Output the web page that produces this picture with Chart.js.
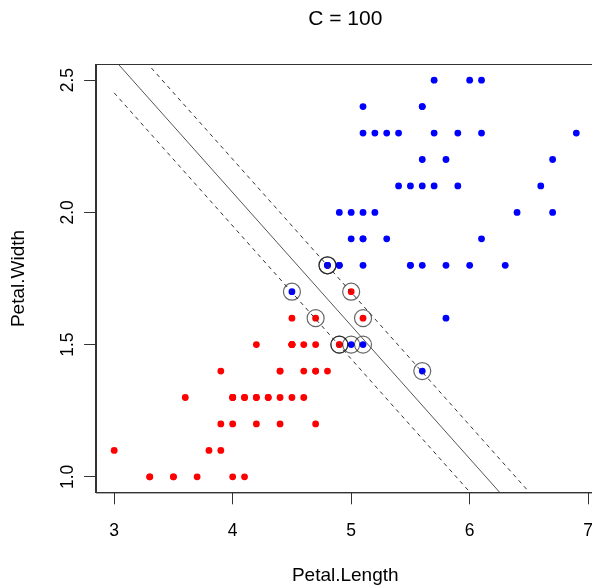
<!DOCTYPE html>
<html>
<head>
<meta charset="utf-8">
<title>C = 100</title>
<script src="https://cdn.jsdelivr.net/npm/chart.js@4.4.1/dist/chart.umd.min.js"></script>
<style>
  html, body { margin: 0; padding: 0; background: #fff; overflow: hidden; }
  .chart-box { width: 600px; height: 587px; }
</style>
</head>
<body>
<div class="chart-box"><canvas id="svmChart" width="600" height="587"></canvas></div>
<script>
// iris: versicolor (red) and virginica (blue)
const versicolorLength = [4.7, 4.5, 4.9, 4.0, 4.6, 4.5, 4.7, 3.3, 4.6, 3.9, 3.5, 4.2, 4.0, 4.7, 3.6, 4.4, 4.5, 4.1, 4.5, 3.9,
  4.8, 4.0, 4.9, 4.7, 4.3, 4.4, 4.8, 5.0, 4.5, 3.5, 3.8, 3.7, 3.9, 5.1, 4.5, 4.5, 4.7, 4.4, 4.1, 4.0,
  4.4, 4.6, 4.0, 3.3, 4.2, 4.2, 4.2, 4.3, 3.0, 4.1];
const versicolorWidth = [1.4, 1.5, 1.5, 1.3, 1.5, 1.3, 1.6, 1.0, 1.3, 1.4, 1.0, 1.5, 1.0, 1.4, 1.3, 1.4, 1.5, 1.0, 1.5, 1.1,
  1.8, 1.3, 1.5, 1.2, 1.3, 1.4, 1.4, 1.7, 1.5, 1.0, 1.1, 1.0, 1.2, 1.6, 1.5, 1.6, 1.5, 1.3, 1.3, 1.3,
  1.2, 1.4, 1.2, 1.0, 1.3, 1.2, 1.3, 1.3, 1.1, 1.3];

const virginicaLength = [6.0, 5.1, 5.9, 5.6, 5.8, 6.6, 4.5, 6.3, 5.8, 6.1, 5.1, 5.3, 5.5, 5.0, 5.1, 5.3, 5.5, 6.7, 6.9, 5.0,
  5.7, 4.9, 6.7, 4.9, 5.7, 6.0, 4.8, 4.9, 5.6, 5.8, 6.1, 6.4, 5.6, 5.1, 5.6, 6.1, 5.6, 5.5, 4.8, 5.4,
  5.6, 5.1, 5.1, 5.9, 5.7, 5.2, 5.0, 5.2, 5.4, 5.1];
const virginicaWidth = [2.5, 1.9, 2.1, 1.8, 2.2, 2.1, 1.7, 1.8, 1.8, 2.5, 2.0, 1.9, 2.1, 2.0, 2.4, 2.3, 1.8, 2.2, 2.3, 1.5,
  2.3, 2.0, 2.0, 1.8, 2.1, 1.8, 1.8, 1.8, 2.1, 1.6, 1.9, 2.0, 2.2, 1.5, 1.4, 2.3, 2.4, 1.8, 1.8, 2.1,
  2.4, 2.3, 1.9, 2.3, 2.5, 2.3, 1.9, 2.0, 2.3, 1.8];

// support vectors (repeated points are drawn twice, like in the original)
const svLength = [4.8, 4.8, 4.5, 5.0, 4.7, 5.1, 4.9, 4.9, 5.0, 5.1, 5.6];
const svWidth = [1.8, 1.8, 1.7, 1.7, 1.6, 1.6, 1.5, 1.5, 1.5, 1.5, 1.4];

// decision boundary and margins, end points
const lineLength = [3.0, 6.9];
const boundaryWidth = [2.578, 0.616];
const upperMarginWidth = [2.704, 0.742];
const lowerMarginWidth = [2.452, 0.490];

const xTicks = [3, 4, 5, 6, 7];
const yTicks = [1.0, 1.5, 2.0, 2.5];
const xRange = [2.844, 7.056];
const yRange = [0.94, 2.56];

const titleText = "C = 100";
const xLabel = "Petal.Length";
const yLabel = "Petal.Width";

const fontFamily = '"Liberation Sans", Arial, Helvetica, sans-serif';

const toPoints = (xs, ys) => xs.map((x, i) => ({ x, y: ys[i] }));

// title, rotated y tick labels and the box round the plot, drawn like R does
const rFrame = {
  id: "rFrame",
  afterDraw(chart) {
    const { ctx, chartArea, scales } = chart;
    ctx.save();
    ctx.strokeStyle = "#333";
    ctx.lineWidth = 1;
    ctx.strokeRect(Math.round(chartArea.left) + 0.5, Math.round(chartArea.top) + 0.5,
      chartArea.width, chartArea.height);

    ctx.fillStyle = "#000";
    ctx.textAlign = "center";
    ctx.textBaseline = "middle";
    ctx.font = `21px ${fontFamily}`;
    ctx.fillText(titleText, (chartArea.left + chartArea.right) / 2, 19.5);

    ctx.font = `17.5px ${fontFamily}`;
    yTicks.forEach(value => {
      const y = scales.y.getPixelForValue(value);
      ctx.save();
      ctx.translate(chartArea.left - 28, y);
      ctx.rotate(-Math.PI / 2);
      ctx.fillText(value.toFixed(1), 0, 0);
      ctx.restore();
    });
    ctx.restore();
  }
};

const lineDataset = (ys, dashed) => ({
  data: toPoints(lineLength, ys),
  showLine: true,
  borderColor: dashed ? "#333" : "#555",
  borderWidth: 1,
  borderDash: dashed ? [4, 4] : [],
  pointRadius: 0,
  order: 0
});

// Chart
const chartElementContext = document.getElementById("svmChart").getContext("2d");

const svmChart = new Chart(chartElementContext, {
  type: "scatter",
  data: {
    datasets: [
      lineDataset(boundaryWidth, false),
      lineDataset(upperMarginWidth, true),
      lineDataset(lowerMarginWidth, true),
      {
        data: toPoints(svLength, svWidth),
        pointRadius: 8.5,
        pointBackgroundColor: "rgba(0,0,0,0)",
        pointBorderColor: "rgba(0,0,0,0.6)",
        pointBorderWidth: 1.2,
        order: 1
      },
      {
        data: toPoints(virginicaLength, virginicaWidth),
        pointRadius: 3.4,
        pointBackgroundColor: "#0000ff",
        pointBorderWidth: 0,
        order: 2
      },
      {
        data: toPoints(versicolorLength, versicolorWidth),
        pointRadius: 3.4,
        pointBackgroundColor: "#ff0000",
        pointBorderWidth: 0,
        order: 3
      }
    ]
  },
  options: {
    responsive: false,
    animation: false,
    events: [],
    layout: { autoPadding: false, padding: { top: 64.3, right: 5.2, bottom: 0, left: 0 } },
    plugins: {
      legend: { display: false },
      title: { display: false },
      tooltip: { enabled: false }
    },
    scales: {
      x: {
        type: "linear",
        min: xRange[0],
        max: xRange[1],
        afterBuildTicks: scale => { scale.ticks = xTicks.map(value => ({ value })); },
        afterFit: scale => {
          scale.height = 94.3;
          scale.paddingLeft = 0;
          scale.paddingRight = 0;
        },
        grid: { drawOnChartArea: false, tickLength: 11.6, color: "#333" },
        border: { color: "#333" },
        ticks: { padding: 16.5, color: "#000", font: { size: 17.5, family: fontFamily } },
        title: { display: true, text: xLabel, color: "#000", padding: 0, font: { size: 19, family: fontFamily } }
      },
      y: {
        type: "linear",
        min: yRange[0],
        max: yRange[1],
        afterBuildTicks: scale => { scale.ticks = yTicks.map(value => ({ value })); },
        afterFit: scale => {
          scale.width = 95.7;
          scale.paddingTop = 0;
          scale.paddingBottom = 0;
        },
        grid: { drawOnChartArea: false, tickLength: 11.6, color: "#333" },
        border: { color: "#333" },
        ticks: { display: false },
        title: { display: true, text: yLabel, color: "#000", padding: { top: 7.2, bottom: 0 }, font: { size: 19, family: fontFamily } }
      }
    }
  },
  plugins: [rFrame]
});
</script>
</body>
</html>
